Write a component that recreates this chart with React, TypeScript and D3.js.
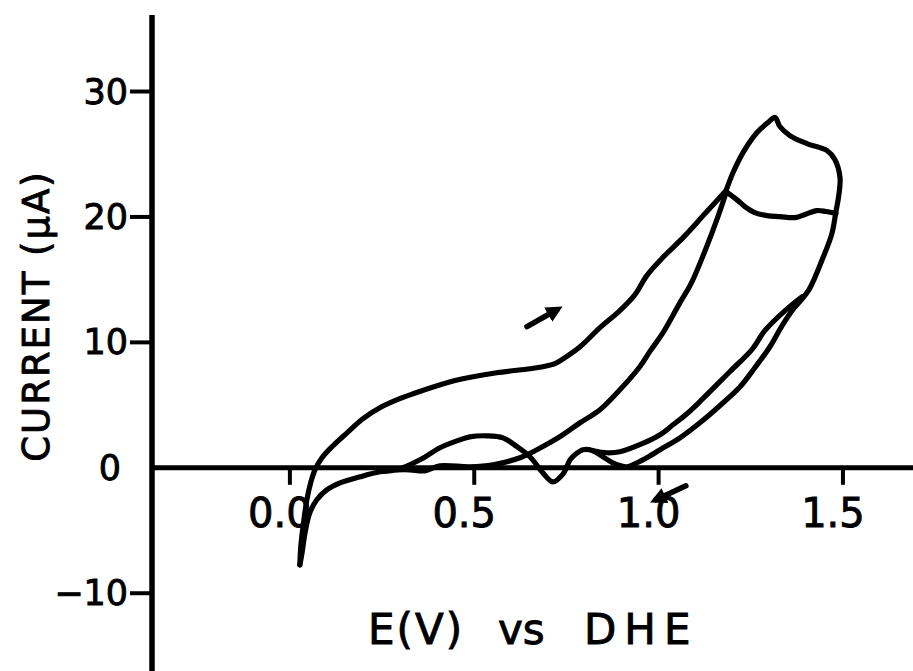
import React from 'react';
import * as d3 from 'd3';

// Plot extent in data units (E in volts, current in µA)
const X_DOMAIN: [number, number] = [-0.374, 1.69];
const Y_DOMAIN: [number, number] = [-16.2, 36.1];

const X_TICKS = [0, 0.5, 1.0, 1.5];
const X_TICK_LABELS = ['0.0', '0.5', '1.0', '1.5'];
const Y_TICKS = [-10, 0, 10, 20, 30];
const Y_TICK_LABELS = ['\u221210', '0', '10', '20', '30'];

const X_TITLE = ['E(V)', 'vs', 'DHE'];
const Y_TITLE = 'CURRENT (\u00b5A)';

// Anodic sweep from the hydrogen region up to the 1.18 V reversal
const anodicSweep: [number, number][] = [
  [0.027, -7.74], [0.030, -6.14], [0.038, -4.15], [0.046, -2.55], [0.057, -1.12],
  [0.068, -0.16], [0.087, 0.80], [0.117, 1.76], [0.155, 2.79], [0.198, 3.91],
  [0.244, 4.79], [0.298, 5.51], [0.334, 5.90], [0.426, 6.78], [0.469, 7.10],
  [0.561, 7.58], [0.651, 7.90], [0.686, 8.06], [0.719, 8.30], [0.746, 8.78],
  [0.787, 9.65], [0.841, 11.17], [0.895, 12.53], [0.936, 13.80], [0.968, 15.32],
  [1.014, 16.84], [1.069, 18.43], [1.126, 20.27], [1.183, 22.10],
];

// Continuation to 1.48 V, then the full cathodic return to the hydrogen region
const wideCycle: [number, number][] = [
  [1.183, 22.10], [1.202, 23.54], [1.229, 25.13], [1.267, 26.73], [1.297, 27.53],
  [1.316, 27.93], [1.329, 27.21], [1.356, 26.49], [1.402, 25.85], [1.457, 25.29],
  [1.478, 24.58], [1.492, 23.14], [1.489, 21.78], [1.481, 20.43], [1.470, 18.67],
  [1.446, 16.76], [1.408, 14.20], [1.383, 13.25], [1.364, 12.61], [1.335, 11.33],
  [1.302, 9.65], [1.261, 7.98], [1.221, 6.46], [1.166, 4.95], [1.112, 3.59],
  [1.058, 2.39], [1.004, 1.44], [0.963, 0.72], [0.930, 0.24], [0.914, 0.08],
  [0.876, 0.40], [0.849, 0.88], [0.822, 1.36], [0.795, 1.44], [0.773, 1.04],
  [0.760, 0.64], [0.741, -0.48], [0.713, -1.12], [0.686, -0.40], [0.651, 0.88],
  [0.616, 1.68], [0.578, 2.39], [0.534, 2.55], [0.488, 2.47], [0.461, 2.23],
  [0.407, 1.60], [0.353, 0.64], [0.290, -0.16], [0.244, -0.32], [0.190, -0.72],
  [0.136, -1.20], [0.100, -1.76], [0.073, -2.55], [0.054, -3.59], [0.041, -5.19],
  [0.033, -6.78], [0.027, -7.74],
];

// Cathodic return after reversing at 1.18 V
const innerReturn: [number, number][] = [
  [1.183, 21.94], [1.161, 20.03], [1.126, 17.31], [1.088, 14.68], [1.058, 13.17],
  [1.012, 10.77], [0.976, 9.26], [0.949, 8.06], [0.895, 6.22], [0.841, 4.63],
  [0.787, 3.59], [0.732, 2.47], [0.670, 1.44], [0.624, 0.80], [0.551, 0.24],
  [0.488, 0.08], [0.407, 0.16], [0.366, -0.24], [0.325, -0.16], [0.290, -0.16],
];

// Plateau branch near 20 µA
const plateau: [number, number][] = [
  [1.183, 22.02], [1.212, 21.38], [1.234, 20.83], [1.261, 20.35], [1.294, 20.11],
  [1.329, 20.03], [1.370, 19.95], [1.397, 20.19], [1.429, 20.51], [1.454, 20.43],
  [1.481, 20.27],
];

// Branch leaving the outer return at 1.39 V and rejoining near 0.82 V
const midReturn: [number, number][] = [
  [1.389, 13.64], [1.343, 12.53], [1.288, 10.93], [1.253, 9.42], [1.193, 7.66],
  [1.120, 5.51], [1.077, 4.31], [1.039, 3.43], [1.004, 2.63], [0.949, 1.84],
  [0.895, 1.28], [0.860, 1.20], [0.822, 1.36],
];

// Sweep-direction arrows: [tail, head]
const sweepArrows: [number, number][][] = [
  [[0.643, 11.25], [0.724, 12.6]],
  [[1.074, -1.44], [0.993, -2.55]],
];

const W = 913;
const H = 671;
const FONT = '"DejaVu Sans", sans-serif';
const INK = '#000';

export default function App() {
  const x = d3.scaleLinear().domain(X_DOMAIN).range([152, W]);
  const y = d3.scaleLinear().domain(Y_DOMAIN).range([H, 15]);

  const line = d3
    .line<[number, number]>()
    .x((d) => x(d[0]))
    .y((d) => y(d[1]))
    .curve(d3.curveCatmullRom.alpha(0.5));

  const curves = [anodicSweep, wideCycle, innerReturn, plateau, midReturn];
  const x0 = x(X_DOMAIN[0]);
  const yZero = y(0);

  // lettering is drawn with a slight outline to give it a pen-stroke weight
  const lettering = {
    fontFamily: FONT,
    fill: INK,
    stroke: INK,
    strokeWidth: 0.9,
  };

  return (
    <svg
      width={W}
      height={H}
      style={{ position: 'absolute', left: 0, top: 0, background: '#fff' }}
    >
      <defs>
        <marker
          id="head"
          viewBox="0 0 10 10"
          refX="6"
          refY="5"
          markerWidth="3"
          markerHeight="3"
          orient="auto"
        >
          <path d="M0,0 L10,5 L0,10 Z" fill={INK} />
        </marker>
      </defs>

      {/* axes */}
      <line x1={x0} x2={x0} y1={y(Y_DOMAIN[1])} y2={H} stroke={INK} strokeWidth={5.5} />
      <line x1={x0} x2={W} y1={yZero} y2={yZero} stroke={INK} strokeWidth={5} />

      {Y_TICKS.map((t, i) => (
        <g key={`yt${i}`}>
          {t !== 0 && (
            <line x1={x0 - 22} x2={x0} y1={y(t)} y2={y(t)} stroke={INK} strokeWidth={4} />
          )}
          <text
            {...lettering}
            x={t === 0 ? x0 - 31 : x0 - 24}
            y={y(t)}
            textAnchor="end"
            dominantBaseline="central"
            fontSize={35}
          >
            {Y_TICK_LABELS[i]}
          </text>
        </g>
      ))}

      {X_TICKS.map((t, i) => (
        <g key={`xt${i}`}>
          <line x1={x(t)} x2={x(t)} y1={yZero} y2={yZero + 17} stroke={INK} strokeWidth={4} />
          <text {...lettering} x={x(t) - 10} y={527} textAnchor="middle" fontSize={40}>
            {X_TICK_LABELS[i]}
          </text>
        </g>
      ))}

      {/* axis titles */}
      <text
        {...lettering}
        transform="translate(36,316) rotate(-90)"
        textAnchor="middle"
        dominantBaseline="central"
        fontSize={37}
        letterSpacing={2}
      >
        {Y_TITLE}
      </text>
      <text {...lettering} y={644} fontSize={42}>
        <tspan x={368} letterSpacing={2}>{X_TITLE[0]}</tspan>
        <tspan x={498}>{X_TITLE[1]}</tspan>
        <tspan x={584} letterSpacing={8}>{X_TITLE[2]}</tspan>
      </text>

      {/* voltammogram traces */}
      {curves.map((c, i) => (
        <path
          key={`c${i}`}
          d={line(c) || ''}
          fill="none"
          stroke={INK}
          strokeWidth={5.2}
          strokeLinecap="round"
          strokeLinejoin="round"
        />
      ))}

      {sweepArrows.map((a, i) => (
        <line
          key={`a${i}`}
          x1={x(a[0][0])}
          y1={y(a[0][1])}
          x2={x(a[1][0])}
          y2={y(a[1][1])}
          stroke={INK}
          strokeWidth={5.5}
          strokeLinecap="round"
          markerEnd="url(#head)"
        />
      ))}
    </svg>
  );
}
